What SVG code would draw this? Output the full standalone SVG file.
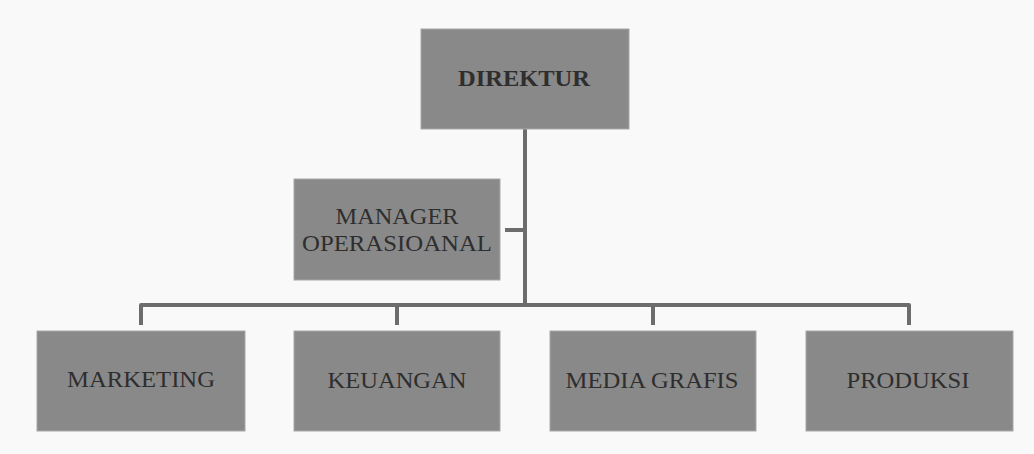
<svg xmlns="http://www.w3.org/2000/svg" width="1034" height="454" viewBox="0 0 1034 454">
<style>
.box{fill:#898989;stroke:#a8a8a8;stroke-width:1}
.t{font-family:"Liberation Serif","Times New Roman",serif;font-size:23px;fill:#2e2e2e;text-anchor:middle}
.b{font-weight:bold}
.c{fill:none;stroke:#6c6c6c;stroke-width:4;stroke-linejoin:round}
</style>
<rect width="1034" height="454" fill="#f9f9f9"/>
<g id="connectors">
<path class="c" d="M525 129 V305"/>
<path class="c" d="M505 230 H525"/>
<path class="c" d="M141 325 V305 H909 V325"/>
<path class="c" d="M397 305 V325"/>
<path class="c" d="M653 305 V325"/>
</g>
<g id="direktur"><rect class="box" x="421" y="29" width="208" height="100"/><text class="t b" x="524" y="86" textLength="132" lengthAdjust="spacingAndGlyphs">DIREKTUR</text></g>
<g id="manager"><rect class="box" x="294" y="179" width="206" height="101"/><text class="t" x="397" y="224" textLength="123" lengthAdjust="spacingAndGlyphs">MANAGER</text><text class="t" x="397" y="251" textLength="190" lengthAdjust="spacingAndGlyphs">OPERASIOANAL</text></g>
<g id="marketing"><rect class="box" x="37" y="331" width="208" height="100"/><text class="t" x="141" y="387" textLength="148" lengthAdjust="spacingAndGlyphs">MARKETING</text></g>
<g id="keuangan"><rect class="box" x="294" y="331" width="206" height="100"/><text class="t" x="397" y="388" textLength="139" lengthAdjust="spacingAndGlyphs">KEUANGAN</text></g>
<g id="media"><rect class="box" x="550" y="331" width="206" height="100"/><text class="t" x="652" y="388" textLength="173" lengthAdjust="spacingAndGlyphs">MEDIA  GRAFIS</text></g>
<g id="produksi"><rect class="box" x="806" y="331" width="207" height="100"/><text class="t" x="908" y="388" textLength="123" lengthAdjust="spacingAndGlyphs">PRODUKSI</text></g>
</svg>
